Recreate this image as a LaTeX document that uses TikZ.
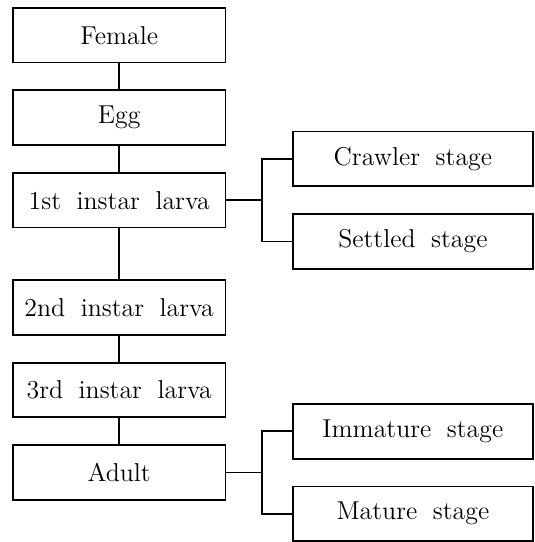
\documentclass[tikz,border=0pt]{standalone}
\usepackage{tikz}

\begin{document}
\begin{tikzpicture}[
                    line width=0.9pt,
                    node distance=41.5pt,
                    every node/.style={
                        draw,
                        rectangle,
                        minimum height=27.5pt,
                        font={\fontsize{13}{15}\selectfont\spaceskip=0.6em\relax}
                    },
                    main/.style={minimum width=107pt},
                    side/.style={minimum width=120.5pt}
                ]
                \node[main] (F)                                     {Female};
                \node[main] (E)  [below of=F]                       {Egg};
                \node[main] (L1) [below of=E]                       {1st instar larva};
                \node[main] (L2) [below of=L1, node distance=54pt]  {2nd instar larva};
                \node[main] (L3) [below of=L2]                      {3rd instar larva};
                \node[main] (A)  [below of=L3]                      {Adult};
                \node[side] (CS) [right of=L1, node distance=147.75pt, yshift=20.75pt] {Crawler stage};
                \node[side] (SS) [below of=CS]                      {Settled stage};
                \node[side] (IS) [right of=A,  node distance=147.75pt, yshift=20.75pt] {Immature stage};
                \node[side] (MS) [below of=IS]                      {Mature stage};

                \coordinate (J1) at ([xshift=18pt]L1.east);
                \coordinate (J2) at ([xshift=18pt]A.east);

                \useasboundingbox ([xshift=-6pt,yshift=3.5pt]F.north west) rectangle ++(269pt,-271pt);

                \draw (F) -- (E);
                \draw (E) -- (L1);
                \draw (L1) -- (L2);
                \draw (L2) -- (L3);
                \draw (L3) -- (A);
                \draw (L1) -- (J1);
                \draw (J1) |- (CS);
                \draw (J1) |- (SS);
                \draw (A) -- (J2);
                \draw (J2) |- (IS);
                \draw (J2) |- (MS);
            \end{tikzpicture}
\end{document}
